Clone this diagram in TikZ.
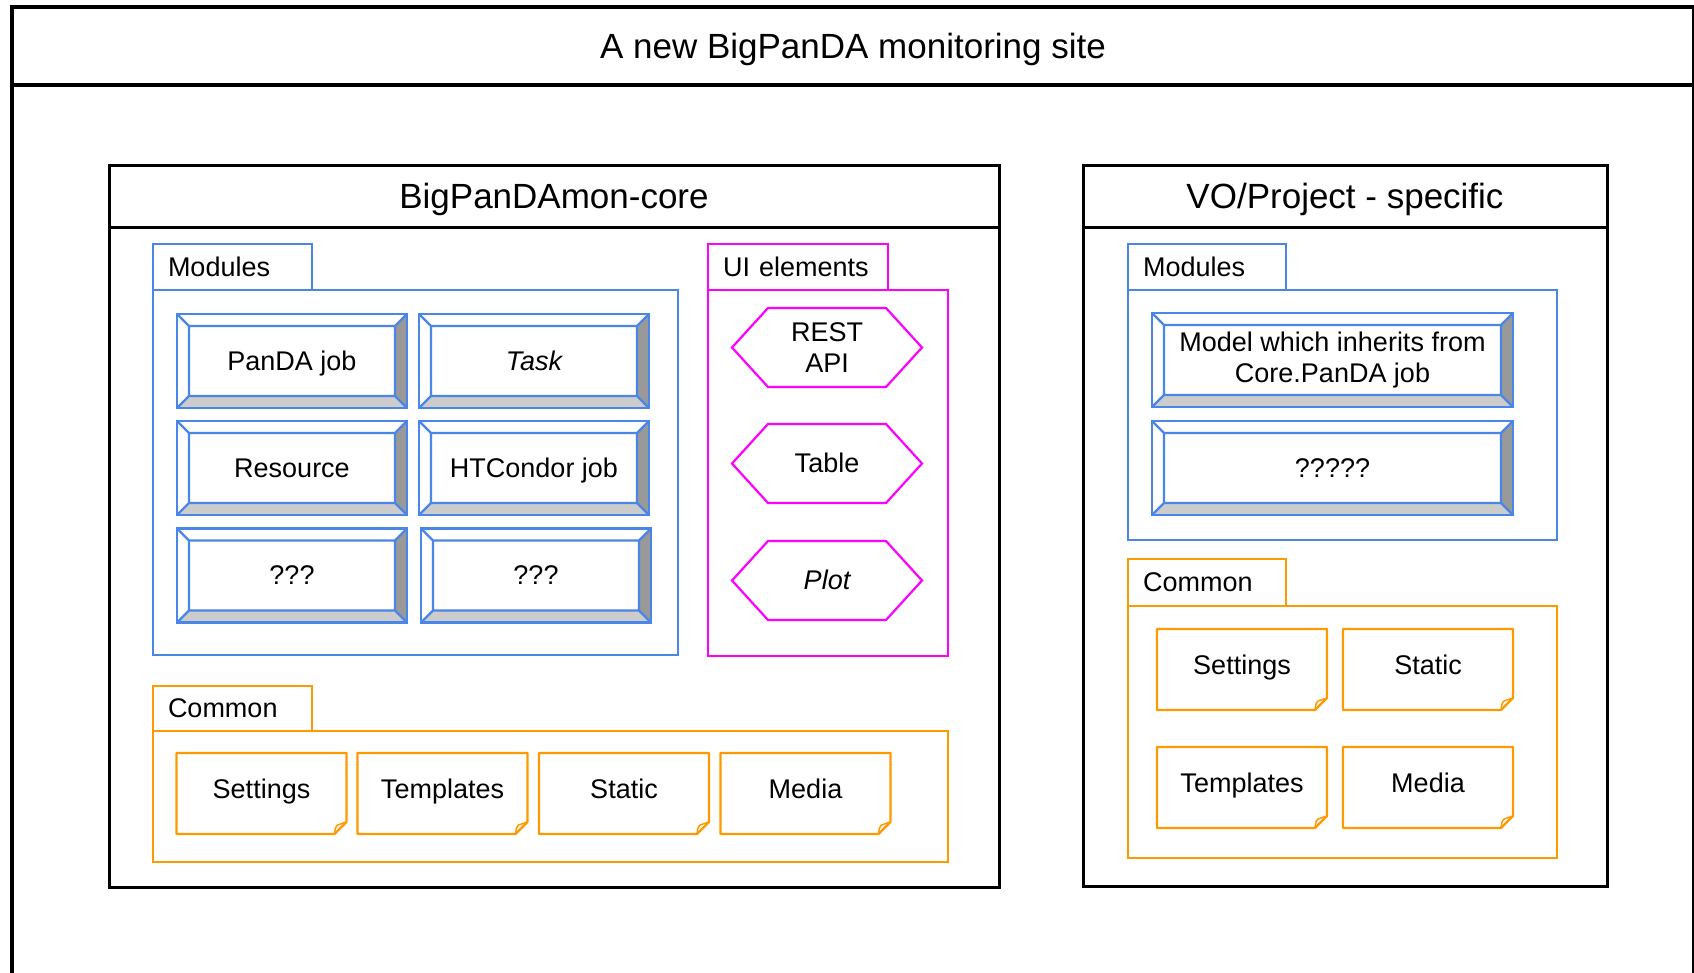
\documentclass[tikz,border=0pt]{standalone}
\usepackage{fontspec}
\setmainfont{Liberation Sans}
\usetikzlibrary{calc}
\definecolor{mblue}{HTML}{4A86E8}
\definecolor{morange}{HTML}{FF9900}
\definecolor{mmag}{HTML}{FF00FF}
\definecolor{bevdark}{HTML}{999999}
\definecolor{bevlight}{HTML}{CCCCCC}
\newcommand{\txtfont}{\fontsize{27pt}{31pt}\selectfont}
\newcommand{\ttlfont}{\fontsize{35pt}{40pt}\selectfont}
\newcommand{\hexout}[1]{\draw[magbox] (#1.west) -- ([xshift=36pt]#1.north west) -- ([xshift=-36pt]#1.north east) -- (#1.east) -- ([xshift=-36pt]#1.south east) -- ([xshift=36pt]#1.south west) -- cycle;}
\newcommand{\noteout}[1]{\draw[orgbox, line join=round] (#1.north west) -- (#1.north east) -- ([yshift=12pt]#1.south east) -- ([xshift=-12pt]#1.south east) -- (#1.south west) -- cycle;
 \draw[orgbox, line width=1.5pt, line join=round] ([xshift=-12pt]#1.south east) .. controls ([shift={(-11pt,7pt)}]#1.south east) .. ([shift={(-9pt,9pt)}]#1.south east) -- ([yshift=12pt]#1.south east);}
\tikzset{
 every node/.style={font=\txtfont, inner sep=0pt, outer sep=0pt},
 sl/.style={text height=24.4pt, text depth=5.7pt},
 nl/.style={text height=24.4pt, text depth=15pt},
 ttl/.style={font=\ttlfont, text height=31.7pt, text depth=7.4pt},
 bigband/.style={draw=black, line width=4pt},
 band/.style={draw=black, line width=3pt},
 bluebox/.style={draw=mblue, line width=2.2pt},
 magbox/.style={draw=mmag, line width=2.2pt},
 orgbox/.style={draw=morange, line width=2.2pt},
 tabbox/.style={sl, align=left},
 corebev/.style={bevelbox, minimum width=230pt, minimum height=94pt},
 vobev/.style={bevelbox, minimum width=361pt, minimum height=94pt},
 hexbox/.style={minimum width=190pt, minimum height=79pt, align=center},
 notebox/.style={nl, minimum width=170pt, minimum height=81pt, align=center},
 bevelbox/.style={draw=mblue, line width=2.2pt, align=center,
  path picture={
   \coordinate (pA) at (path picture bounding box.north west);
   \coordinate (pB) at (path picture bounding box.north east);
   \coordinate (pC) at (path picture bounding box.south east);
   \coordinate (pD) at (path picture bounding box.south west);
   \coordinate (qA) at ([shift={(12pt,-12pt)}]pA);
   \coordinate (qB) at ([shift={(-12pt,-12pt)}]pB);
   \coordinate (qC) at ([shift={(-12pt,12pt)}]pC);
   \coordinate (qD) at ([shift={(12pt,12pt)}]pD);
   \fill[bevdark] (pB) -- (pC) -- (qC) -- (qB) -- cycle;
   \fill[bevlight] (pD) -- (pC) -- (qC) -- (qD) -- cycle;
   \draw[mblue, line width=2.2pt, line join=round] (qA) rectangle (qC) (pA) -- (qA) (pB) -- (qB) (pC) -- (qC) (pD) -- (qD);
  }},
}
\begin{document}
\begin{tikzpicture}[x=1pt, y=-1pt]
\useasboundingbox (0,0) rectangle (1694,972);
\clip (0,0) rectangle (1694,972);
\fill[white] (0,0) rectangle (1694,972);
% outer frame
\node[bigband, minimum width=1682pt, minimum height=890pt] (outerbody) at (853,530) {};
\node[bigband, ttl, minimum width=1682pt, minimum height=78pt] (outertitle) at (853,46) {A new BigPanDA monitoring site};
% core frame
\node[band, minimum width=890pt, minimum height=660pt] (corebody) at (554,557) {};
\node[band, ttl, minimum width=890pt, minimum height=62pt] (coretitle) at (554,196) {BigPanDAmon-core};
% VO frame
\node[band, minimum width=524pt, minimum height=659pt] (vobody) at (1345,556.5) {};
\node[band, ttl, minimum width=524pt, minimum height=62pt] (votitle) at (1345,196) {VO/Project - specific};
% containers
\node[bluebox, minimum width=525pt, minimum height=365pt] (cmod) at (415.5,472.5) {};
\node[magbox, minimum width=240pt, minimum height=366pt] (ui) at (828,473) {};
\node[orgbox, minimum width=795pt, minimum height=131pt] (ccom) at (550.5,796.5) {};
\node[bluebox, minimum width=429pt, minimum height=250pt] (vmod) at (1342.5,415) {};
\node[orgbox, minimum width=429pt, minimum height=252pt] (vcom) at (1342.5,732) {};
% tabs
\node[bluebox, tabbox, minimum width=159pt, minimum height=46pt, text width=129pt] (cmtab) at (232.5,267) {Modules};
\node[magbox, tabbox, minimum width=180pt, minimum height=46pt, text width=150pt] (uitab) at (798,267) {UI elements};
\node[orgbox, tabbox, minimum width=159pt, minimum height=45pt, text width=129pt] (cctab) at (232.5,708.5) {Common};
\node[bluebox, tabbox, minimum width=158pt, minimum height=46pt, text width=128pt] (vmtab) at (1207,267) {Modules};
\node[orgbox, tabbox, minimum width=158pt, minimum height=47pt, text width=128pt] (vctab) at (1207,582.5) {Common};
% core modules
\node[corebev, sl] (pj) at (292,361) {PanDA job};
\node[corebev, sl] (task) at (534,361) {\itshape Task};
\node[corebev, sl] (res) at (292,468) {Resource};
\node[corebev, sl] (htc) at (534,468) {HTCondor job};
\node[corebev, sl] (qa) at (292,575.5) {???};
\node[corebev, sl] (qb) at (536,575.5) {???};
% VO modules
\node[vobev] (vmodel) at (1332.5,360) {Model which inherits from\\Core.PanDA job};
\node[vobev, sl] (vq) at (1332.5,468) {?????};
% UI elements
\node[hexbox] (rest) at (827,347.5) {REST\\API};
\node[hexbox, sl] (table) at (827,463.5) {Table};
\node[hexbox, sl] (plot) at (827,580.5) {\itshape Plot};
\hexout{rest}
\hexout{table}
\hexout{plot}
% core common
\node[notebox] (cset) at (261.5,793.5) {Settings};
\node[notebox] (ctmp) at (442.5,793.5) {Templates};
\node[notebox] (cstat) at (624,793.5) {Static};
\node[notebox] (cmed) at (805.5,793.5) {Media};
\noteout{cset}
\noteout{ctmp}
\noteout{cstat}
\noteout{cmed}
% VO common
\node[notebox] (vset) at (1242,669.5) {Settings};
\node[notebox] (vstat) at (1428,669.5) {Static};
\node[notebox] (vtmp) at (1242,787.5) {Templates};
\node[notebox] (vmed) at (1428,787.5) {Media};
\noteout{vset}
\noteout{vstat}
\noteout{vtmp}
\noteout{vmed}
\end{tikzpicture}
\end{document}
